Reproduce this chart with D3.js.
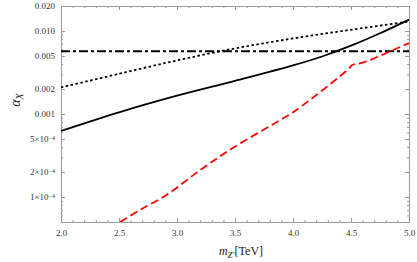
<!DOCTYPE html>
<html>
<head>
<meta charset="utf-8">
<script src="https://cdn.jsdelivr.net/npm/d3@7"></script>
<style>
    body { margin: 0; background: #fff; }
    svg { display: block; }
    .axis path { stroke: #999; }
    .axis line { stroke: #999; }
    .axis text { font-family: "Liberation Serif", "DejaVu Serif", serif; font-size: 9px; fill: #333; }
</style>
</head>
<body>
<div id="chart"></div>
<script>

// solid curve (m_Z' in TeV, alpha_X)
const solidX = [2.0, 2.5, 3.0, 3.5, 4.0, 4.25, 4.5, 4.75, 5.0];
const solidVals = [6.24e-4, 1.047e-3, 1.66e-3, 2.51e-3, 3.85e-3, 4.93e-3, 6.65e-3, 9.39e-3, 0.0137];

// dotted curve
const dottedX = [2.0, 2.5, 3.0, 3.5, 4.0, 4.5, 5.0];
const dottedVals = [2.09e-3, 3.05e-3, 4.42e-3, 6.17e-3, 8.13e-3, 0.01035, 0.0130];

// dash-dotted constant
const dashDotX = [2.0, 5.0];
const dashDotVals = [0.0057, 0.0057];

// red dashed curve
const redX = [2.51, 2.68, 2.91, 3.2, 3.48, 3.89, 4.03, 4.48, 4.51, 4.6, 5.0];
const redVals = [5e-5, 6.97e-5, 1.06e-4, 2.11e-4, 3.89e-4, 8.46e-4, 1.12e-3, 3.5e-3, 3.9e-3, 4.15e-3, 7.17e-3];

// ticks
const xTicks = [2.0, 2.5, 3.0, 3.5, 4.0, 4.5, 5.0];
const yTicks = [0.02, 0.01, 0.005, 0.002, 0.001, 5e-4, 2e-4, 1e-4];
const yTickLabels = ["0.020", "0.010", "0.005", "0.002", "0.001", "5×10", "2×10", "1×10"];

let margin = {top: 6, right: 8, bottom: 40, left: 61};
let width = 417 - margin.left - margin.right;
let height = 262 - margin.top - margin.bottom;

let svg = d3.select("#chart").append("svg")
    .attr("width", 417)
    .attr("height", 262)
    .append("g")
    .attr("transform", `translate(${margin.left}, ${margin.top})`);

let x = d3.scaleLinear().domain([2.0, 5.0]).range([0, width]);
let y = d3.scaleLog().domain([5e-5, 0.02]).range([height, 0]);

// minor ticks
let xMinor = d3.range(20, 51).map(d => d / 10).filter(d => !xTicks.some(t => Math.abs(t - d) < 1e-9));
let yMinor = [];
[1e-5, 1e-4, 1e-3, 1e-2].forEach(dec => {
    for (let k = 1; k <= 9; k++) {
        let v = k * dec;
        if (v >= 5e-5 && v <= 0.02 && !yTicks.some(t => Math.abs(t - v) / v < 1e-6)) yMinor.push(v);
    }
});

// bottom axis
svg.append("g").attr("class", "axis")
    .attr("transform", `translate(0, ${height})`)
    .call(d3.axisBottom(x).tickValues(xTicks).tickFormat(d3.format(".1f")).tickSizeInner(-4).tickSizeOuter(0).tickPadding(8));
svg.append("g").attr("class", "axis")
    .attr("transform", `translate(0, ${height})`)
    .call(d3.axisBottom(x).tickValues(xMinor).tickFormat("").tickSizeInner(-2).tickSizeOuter(0));

// top axis
svg.append("g").attr("class", "axis")
    .call(d3.axisTop(x).tickValues(xTicks).tickFormat("").tickSizeInner(-4).tickSizeOuter(0));
svg.append("g").attr("class", "axis")
    .call(d3.axisTop(x).tickValues(xMinor).tickFormat("").tickSizeInner(-2).tickSizeOuter(0));

// left axis
let leftAxis = svg.append("g").attr("class", "axis")
    .call(d3.axisLeft(y).tickValues(yTicks).tickFormat((d, i) => yTickLabels[i]).tickSizeInner(-4).tickSizeOuter(0).tickPadding(6));
svg.append("g").attr("class", "axis")
    .call(d3.axisLeft(y).tickValues(yMinor).tickFormat("").tickSizeInner(-2).tickSizeOuter(0));

// superscript exponents for the small values
leftAxis.selectAll(".tick text").each(function(d, i) {
    if (d < 0.001) {
        d3.select(this).append("tspan")
            .attr("dy", "-0.45em")
            .attr("font-size", "6px")
            .text("−4");
    }
});

// right axis
svg.append("g").attr("class", "axis")
    .attr("transform", `translate(${width}, 0)`)
    .call(d3.axisRight(y).tickValues(yTicks).tickFormat("").tickSizeInner(-4).tickSizeOuter(0));
svg.append("g").attr("class", "axis")
    .attr("transform", `translate(${width}, 0)`)
    .call(d3.axisRight(y).tickValues(yMinor).tickFormat("").tickSizeInner(-2).tickSizeOuter(0));

// clip
svg.append("clipPath").attr("id", "clip")
    .append("rect").attr("width", width).attr("height", height);

let smooth = d3.line()
    .x(d => x(d[0]))
    .y(d => y(d[1]))
    .curve(d3.curveCatmullRom.alpha(0.5));

let straight = d3.line()
    .x(d => x(d[0]))
    .y(d => y(d[1]));

let series = [
    {xs: solidX, vals: solidVals, color: "#000", dash: null, gen: smooth},
    {xs: dottedX, vals: dottedVals, color: "#000", dash: "2.5,2.5", gen: smooth},
    {xs: dashDotX, vals: dashDotVals, color: "#000", dash: "9,3,3,3", gen: straight},
    {xs: redX, vals: redVals, color: "#f00", dash: "8,4", gen: smooth}
];

series.forEach(s => {
    svg.append("path")
        .datum(s.xs.map((d, i) => [d, s.vals[i]]))
        .attr("clip-path", "url(#clip)")
        .attr("fill", "none")
        .attr("stroke", s.color)
        .attr("stroke-width", 1.8)
        .attr("stroke-dasharray", s.dash)
        .attr("d", s.gen);
});

// axis labels
let yLab = svg.append("text")
    .attr("transform", `translate(-41, ${height / 2 - 14}) rotate(-90)`)
    .attr("text-anchor", "middle")
    .attr("font-family", "Liberation Serif, serif")
    .attr("font-size", "14px")
    .attr("fill", "#222");
yLab.append("tspan").attr("font-style", "italic").text("α");
yLab.append("tspan").attr("font-style", "italic").attr("font-size", "10px").attr("dy", "3").text("X");

let xLab = svg.append("text")
    .attr("x", width / 2 + 6)
    .attr("y", height + 33)
    .attr("text-anchor", "middle")
    .attr("font-family", "Liberation Serif, serif")
    .attr("font-size", "12px")
    .attr("fill", "#222");
xLab.append("tspan").attr("font-style", "italic").text("m");
xLab.append("tspan").attr("font-style", "italic").attr("font-size", "9px").attr("dy", "3").text("Z′");
xLab.append("tspan").attr("dy", "-3").text("[TeV]");

</script>
</body>
</html>
